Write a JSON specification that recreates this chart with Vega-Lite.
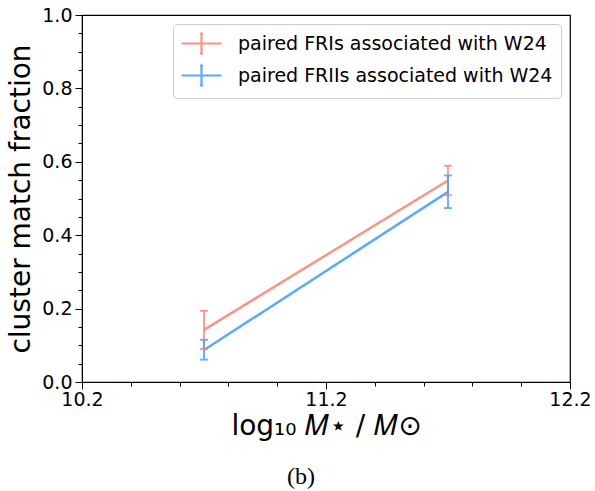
{
  "$schema": "https://vega.github.io/schema/vega-lite/v6.json",
  "width": 488,
  "height": 367,
  "autosize": {"type": "none"},
  "padding": {"left": 82, "top": 15, "right": 25, "bottom": 109},
  "background": "white",
  "config": {
    "font": "DejaVu Sans",
    "view": {"stroke": "black", "strokeWidth": 1.2}
  },
  "title": {
    "text": "(b)",
    "orient": "bottom",
    "font": "Liberation Serif",
    "fontSize": 24,
    "fontWeight": "normal",
    "color": "black",
    "offset": 25,
    "dx": -25
  },
  "data": {
    "values": [
      {"series": "paired FRIs associated with W24", "x": 10.7, "y": 0.142, "lo": 0.09, "hi": 0.194},
      {"series": "paired FRIs associated with W24", "x": 11.7, "y": 0.549, "lo": 0.509, "hi": 0.589},
      {"series": "paired FRIIs associated with W24", "x": 10.7, "y": 0.087, "lo": 0.061, "hi": 0.115},
      {"series": "paired FRIIs associated with W24", "x": 11.7, "y": 0.518, "lo": 0.474, "hi": 0.563}
    ]
  },
  "encoding": {
    "x": {
      "field": "x", "type": "quantitative",
      "scale": {"domain": [10.2, 12.2], "nice": false, "zero": false},
      "axis": {
        "title": "log₁₀ 𝑀⋆ / 𝑀⊙",
        "titleFontSize": 28, "titleFontWeight": "normal", "titleColor": "black", "titlePadding": 3,
        "values": [10.2, 10.4, 10.6, 10.8, 11.0, 11.2, 11.4, 11.6, 11.8, 12.0, 12.2],
        "labelExpr": "abs((datum.value - 10.2) - round(datum.value - 10.2)) < 0.001 ? format(datum.value, '.1f') : ''",
        "labelFontSize": 19, "labelColor": "black", "labelPadding": 1, "labelFlush": false, "labelOverlap": false,
        "tickColor": "black", "domainColor": "black", "grid": false,
        "tickSize": {"condition": {"test": "abs((datum.value - 10.2) - round(datum.value - 10.2)) < 0.001", "value": 7}, "value": 4}
      }
    },
    "y": {
      "field": "y", "type": "quantitative",
      "scale": {"domain": [0, 1], "nice": false},
      "axis": {
        "title": "cluster match fraction",
        "titleFontSize": 28, "titleFontWeight": "normal", "titleColor": "black", "titlePadding": 6,
        "values": [0, 0.05, 0.1, 0.15, 0.2, 0.25, 0.3, 0.35, 0.4, 0.45, 0.5, 0.55, 0.6, 0.65, 0.7, 0.75, 0.8, 0.85, 0.9, 0.95, 1.0],
        "labelExpr": "abs(datum.value * 5 - round(datum.value * 5)) < 0.001 ? format(datum.value, '.1f') : ''",
        "labelFontSize": 19, "labelColor": "black", "labelPadding": 3, "labelFlush": false, "labelOverlap": false,
        "tickColor": "black", "domainColor": "black", "grid": false,
        "tickSize": {"condition": {"test": "abs(datum.value * 5 - round(datum.value * 5)) < 0.001", "value": 7}, "value": 4}
      }
    },
    "color": {
      "field": "series", "type": "nominal",
      "scale": {"domain": ["paired FRIs associated with W24", "paired FRIIs associated with W24"], "range": ["#FA8072", "#3D9BFF"]},
      "legend": {
        "title": null,
        "orient": "top-right",
        "offset": 9,
        "symbolType": "M-2,0H2M0,-1V1M-0.15,-1H0.15M-0.15,1H0.15",
        "symbolSize": 400,
        "symbolStrokeWidth": 2.2,
        "symbolFillColor": "transparent",
        "symbolOpacity": 0.85,
        "symbolOffset": 9,
        "labelFontSize": 19,
        "labelColor": "black",
        "labelOffset": 25,
        "labelLimit": 0,
        "rowPadding": 3,
        "padding": 8,
        "fillColor": "white",
        "strokeColor": "#cccccc",
        "cornerRadius": 4
      }
    }
  },
  "layer": [
    {"mark": {"type": "line", "strokeWidth": 2.5, "opacity": 0.85}},
    {"mark": {"type": "rule", "strokeWidth": 2, "opacity": 0.75}, "encoding": {"y": {"field": "lo", "type": "quantitative"}, "y2": {"field": "hi"}}},
    {"mark": {"type": "tick", "orient": "horizontal", "size": 8, "thickness": 2, "opacity": 0.75}, "encoding": {"y": {"field": "lo", "type": "quantitative"}}},
    {"mark": {"type": "tick", "orient": "horizontal", "size": 8, "thickness": 2, "opacity": 0.75}, "encoding": {"y": {"field": "hi", "type": "quantitative"}}}
  ]
}
